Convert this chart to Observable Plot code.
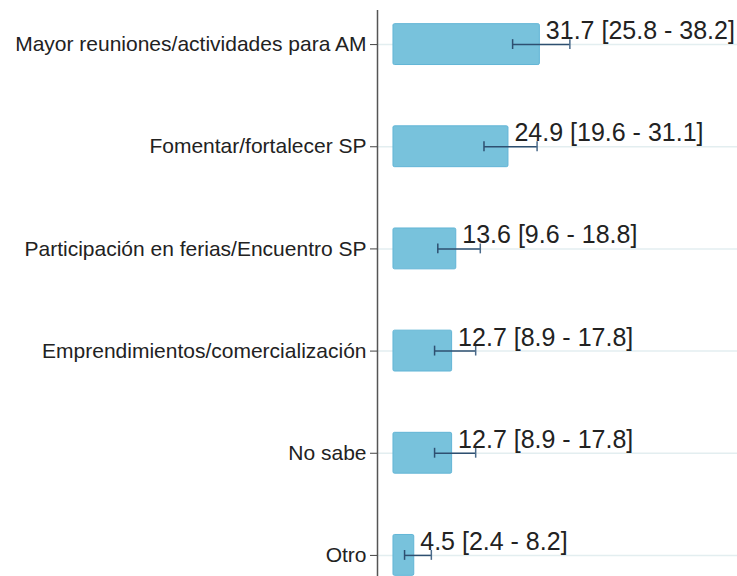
<!DOCTYPE html>
<html>
<head>
<meta charset="utf-8">
<script src="https://cdn.jsdelivr.net/npm/d3@7"></script>
<script src="https://cdn.jsdelivr.net/npm/@observablehq/plot@0.6"></script>
<style>
  html, body { margin: 0; padding: 0; background: #fff; }
  svg { display: block; }
</style>
</head>
<body>
<div id="chart"></div>
<script>
const categories = [
  "Mayor reuniones/actividades para AM",
  "Fomentar/fortalecer SP",
  "Participación en ferias/Encuentro SP",
  "Emprendimientos/comercialización",
  "No sabe",
  "Otro"
];
const values = [31.7, 24.9, 13.6, 12.7, 12.7, 4.5];
const lower  = [25.8, 19.6, 9.6, 8.9, 8.9, 2.4];
const upper  = [38.2, 31.1, 18.8, 17.8, 17.8, 8.2];

const data = categories.map((c, i) => ({
  cat: c, v: values[i], lo: lower[i], hi: upper[i],
  label: `${values[i].toFixed(1)} [${lower[i].toFixed(1)} - ${upper[i].toFixed(1)}]`
}));

const xMin = -3.46;

const chart = Plot.plot({
  width: 737,
  height: 576,
  marginLeft: 377,
  marginRight: 0,
  marginTop: 10,
  marginBottom: 0,
  style: { fontFamily: "'Liberation Sans', Arial, sans-serif", background: "#fff" },
  x: { domain: [xMin, 74.5], axis: null },
  y: {
    domain: categories,
    range: [-7, 606],
    paddingInner: 0.6,
    paddingOuter: 0.3,
    round: false,
    label: null
  },
  marks: [
    Plot.gridY({ stroke: "#e3eef0", strokeOpacity: 1, strokeWidth: 1.5 }),
    Plot.barX(data, { y: "cat", x1: 0, x2: "v", fill: "#78c2dc", stroke: "#62b5d6", strokeWidth: 1, rx: 1.5 }),
    Plot.link(data, { x1: "lo", x2: "hi", y1: "cat", y2: "cat", stroke: "#2e4f70", strokeWidth: 1.5 }),
    Plot.tickX(data, { x: "lo", y: "cat", stroke: "#2e4f70", strokeWidth: 1.5, insetTop: 15.5, insetBottom: 15.5 }),
    Plot.tickX(data, { x: "hi", y: "cat", stroke: "#4a6a8a", strokeWidth: 1.5, insetTop: 15.5, insetBottom: 15.5 }),
    Plot.text(data, { x: "v", y: "cat", text: "label", textAnchor: "start", dx: 6, dy: -13.5, fontSize: 25, fill: "#222" }),
    Plot.ruleX([xMin], { stroke: "#555", strokeWidth: 1.5 }),
    Plot.axisY({ tickSize: 7, tickPadding: 4, fontSize: 21, color: "#222", stroke: "#444", label: null })
  ]
});
document.getElementById("chart").append(chart);
</script>
</body>
</html>
